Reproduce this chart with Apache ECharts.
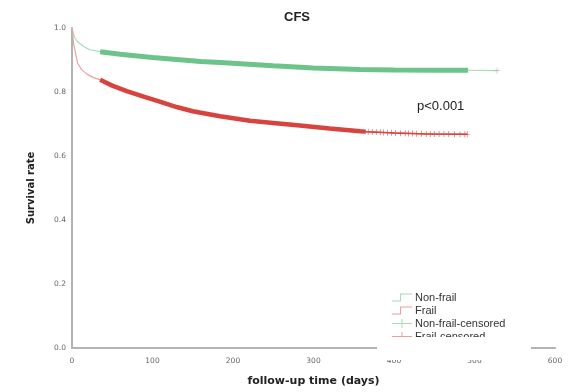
<!DOCTYPE html>
<html>
<head>
<meta charset="utf-8">
<script src="https://cdn.jsdelivr.net/npm/echarts@6/dist/echarts.min.js"></script>
<style>
  html, body { margin: 0; padding: 0; background: #fff; }
  #chart { width: 574px; height: 392px; }
</style>
</head>
<body>
<div id="chart"></div>
<script>
// Kaplan-Meier estimates (day, survival) for each group
const nonFrailDays = [0, 3, 7, 14, 22, 35, 60, 100, 160, 184, 250, 300, 358, 400, 450, 492, 528];
const nonFrailSurv = [1.0, 0.972, 0.957, 0.943, 0.932, 0.926, 0.918, 0.908, 0.895, 0.892, 0.882, 0.875, 0.870, 0.869, 0.868, 0.868, 0.867];

const frailDays = [0, 2, 7, 12, 19, 27, 35, 50, 68, 90, 109, 130, 150, 184, 221, 250, 283, 320, 358, 400, 440, 491];
const frailSurv = [1.0, 0.95, 0.89, 0.87, 0.855, 0.845, 0.838, 0.82, 0.803, 0.785, 0.77, 0.753, 0.74, 0.724, 0.71, 0.703, 0.695, 0.686, 0.677, 0.672, 0.669, 0.668];

// Periods where censoring marks are so dense they merge into a band
const nonFrailCensorBand = [35, 492];
const frailCensorBand = [35, 365];

// Individually visible censoring times
const nonFrailCensorTimes = [528];
const frailCensorTimes = [368, 373, 378, 383, 387, 392, 397, 402, 408, 414, 418, 423, 428, 434, 440, 445, 450, 456, 462, 468, 475, 482, 488, 491];

// Axis ticks
const xTicks = [0, 100, 200, 300, 400, 500, 600];
const yTicks = [0.0, 0.2, 0.4, 0.6, 0.8, 1.0];

function pairs(days, surv) {
  return days.map((d, i) => [d, surv[i]]);
}
function survAt(days, surv, t) {
  for (let i = 1; i < days.length; i++) {
    if (t <= days[i]) {
      const f = (t - days[i - 1]) / (days[i] - days[i - 1]);
      return surv[i - 1] + f * (surv[i] - surv[i - 1]);
    }
  }
  return surv[surv.length - 1];
}
function band(days, surv, range) {
  const pts = [[range[0], survAt(days, surv, range[0])]];
  days.forEach((d, i) => { if (d > range[0] && d < range[1]) pts.push([d, surv[i]]); });
  pts.push([range[1], survAt(days, surv, range[1])]);
  return pts;
}
function marks(days, surv, times) {
  return times.map(t => [t, survAt(days, surv, t)]);
}

const plusMark = 'path://M4.4,0h1.2v10h-1.2zM0,4.4h10v1.2h-10z';
const plusIcon = 'path://M0,4.5h20v1h-20zM9.5,0.5h1v9h-1z';
const stepIcon = 'path://M0,8h8v-7h12v1h-11v7h-9z';

const GREEN = '#6cc48a', GREEN_LIGHT = '#a8dcb9';
const RED = '#d8443d', RED_LIGHT = '#e7a1a1';

const chart = echarts.init(document.getElementById('chart'));
chart.setOption({
  animation: false,
  title: {
    text: 'CFS',
    left: 292, top: 6, textAlign: 'center',
    textStyle: { fontFamily: 'Liberation Sans', fontSize: 13, fontWeight: 'bold', color: '#222' }
  },
  grid: { left: 72, top: 28, right: 19, bottom: 39 },
  xAxis: {
    type: 'value', min: xTicks[0], max: xTicks[xTicks.length - 1], interval: 100,
    name: 'follow-up time (days)', nameLocation: 'middle', nameGap: 28,
    nameTextStyle: { fontFamily: 'DejaVu Sans', fontSize: 11, fontWeight: 'bold', color: '#222' },
    axisLine: { lineStyle: { color: '#b3b3b3', width: 2 } },
    axisTick: { show: false },
    splitLine: { show: false },
    axisLabel: { fontFamily: 'DejaVu Sans', fontSize: 7.5, color: '#666', margin: 9 }
  },
  yAxis: {
    type: 'value', min: yTicks[0], max: yTicks[yTicks.length - 1], interval: 0.2,
    name: 'Survival rate', nameLocation: 'middle', nameGap: 36,
    nameTextStyle: { fontFamily: 'DejaVu Sans', fontSize: 10, fontWeight: 'bold', color: '#222' },
    axisLine: { show: true, lineStyle: { color: '#b3b3b3', width: 2 } },
    axisTick: { show: false },
    splitLine: { show: false },
    axisLabel: { fontFamily: 'DejaVu Sans', fontSize: 7.5, color: '#666', margin: 6,
      formatter: v => v.toFixed(1) }
  },
  legend: {
    orient: 'vertical', left: 387, top: 287,
    itemWidth: 20, itemHeight: 10, itemGap: 2,
    textStyle: { fontFamily: 'Liberation Sans', fontSize: 11, lineHeight: 11, color: '#333', padding: [0, 0, 0, -2] },
    data: [
      { name: 'Non-frail', icon: stepIcon, itemStyle: { color: GREEN_LIGHT } },
      { name: 'Frail', icon: stepIcon, itemStyle: { color: RED_LIGHT } },
      { name: 'Non-frail-censored', icon: plusIcon, itemStyle: { color: GREEN_LIGHT } },
      { name: 'Frail-censored', icon: plusIcon, itemStyle: { color: RED_LIGHT } }
    ]
  },
  graphic: [
    { type: 'text', left: 417, top: 100, z: 50,
      style: { text: 'p<0.001', font: '13px "Liberation Sans"', fill: '#222' } },
    // blank panel overlapping the bottom of the legend and the axis
    { type: 'rect', z: 100, shape: { x: 377, y: 337, width: 154, height: 23 },
      style: { fill: '#fff' } }
  ],
  series: [
    { name: 'Non-frail', type: 'line', data: pairs(nonFrailDays, nonFrailSurv),
      showSymbol: false, lineStyle: { color: GREEN_LIGHT, width: 1.2 }, itemStyle: { color: GREEN_LIGHT }, z: 2 },
    { name: 'Frail', type: 'line', data: pairs(frailDays, frailSurv),
      showSymbol: false, lineStyle: { color: RED_LIGHT, width: 1.2 }, itemStyle: { color: RED_LIGHT }, z: 2 },
    { name: 'Non-frail-censored', type: 'line', data: band(nonFrailDays, nonFrailSurv, nonFrailCensorBand),
      showSymbol: false, lineStyle: { color: GREEN, width: 5 }, itemStyle: { color: GREEN }, z: 3 },
    { name: 'Non-frail-censored', type: 'scatter', data: marks(nonFrailDays, nonFrailSurv, nonFrailCensorTimes),
      symbol: plusMark, symbolSize: 6, itemStyle: { color: '#9bb5a3' }, z: 3 },
    { name: 'Frail-censored', type: 'line', data: band(frailDays, frailSurv, frailCensorBand),
      showSymbol: false, lineStyle: { color: RED, width: 4.5 }, itemStyle: { color: RED }, z: 3 },
    { name: 'Frail-censored', type: 'scatter', data: marks(frailDays, frailSurv, frailCensorTimes),
      symbol: plusMark, symbolSize: 6, itemStyle: { color: RED }, z: 3 },
    { name: 'Frail-censored', type: 'line', data: band(frailDays, frailSurv, [365, 491]),
      showSymbol: false, lineStyle: { color: RED, width: 1.5 }, z: 3 }
  ]
});
</script>
</body>
</html>
